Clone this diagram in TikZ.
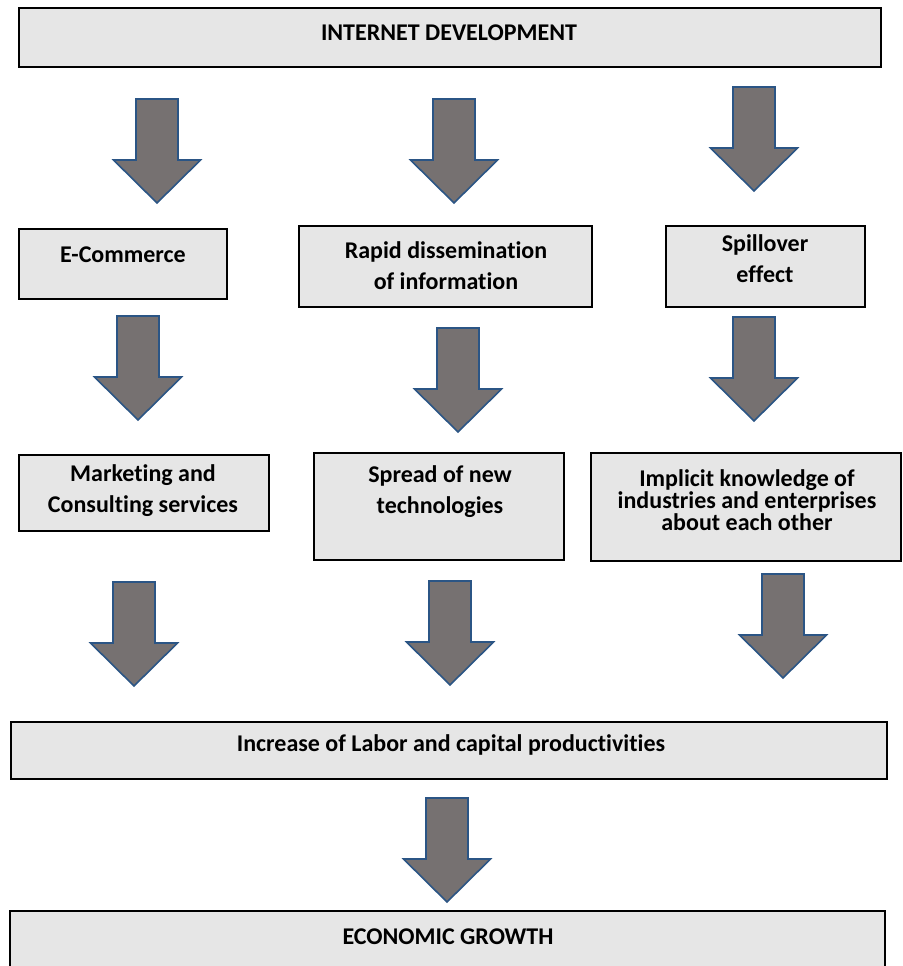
\documentclass[tikz,border=0pt]{standalone}
\usepackage{fontspec}
\setmainfont[Ligatures=NoCommon]{Carlito}
\usetikzlibrary{fit,positioning}
\definecolor{boxgray}{HTML}{E6E6E6}
\definecolor{arrowgray}{HTML}{767171}
\definecolor{arrowblue}{HTML}{2B5585}

% block arrows: centre x / top y
\def\blockarrows{157/99, 454/99, 754/87,%
  138/316, 458/328, 754/317,%
  134/582, 450/581, 783/574,%
  447/798}

\begin{document}
\begin{tikzpicture}[x=0.75pt,y=-0.75pt,
    box/.style={rectangle, draw=black, line width=1.4pt, fill=boxgray, inner sep=0pt},
    lbl/.style={font=\bfseries\fontsize{18}{23.25}\selectfont, align=center, inner sep=0pt},
    blockarrow/.style={fill=arrowgray, draw=arrowblue, line width=1.2pt, line join=miter}]

  \useasboundingbox (0,0) rectangle (902,966);

  % boxes
  \node[box, fit={(19,8)(881,67)}]    (inet) {};
  \node[box, fit={(19,229)(227,299)}] (ecom) {};
  \node[box, fit={(299,226)(592,307)}] (rapid) {};
  \node[box, fit={(666,226)(865,307)}] (spill) {};
  \node[box, fit={(19,455)(269,531)}] (market) {};
  \node[box, fit={(314,453)(564,560)}] (spread) {};
  \node[box, fit={(591,453)(901,561)}] (implicit) {};
  \node[box, fit={(11,722)(887,779)}] (increase) {};
  \node[box, fit={(10,911)(885,985)}] (econ) {};

  % texts
  \node[lbl] (inettxt)     at (449,33)    {INTERNET DEVELOPMENT};
  \node[lbl] (ecomtxt)     at (123,254.5) {E-Commerce};
  \node[lbl] (rapidtxt)    at (446,266)   {Rapid dissemination\\of information};
  \node[lbl] (spilltxt)    at (765,259)   {Spillover\\effect};
  \node[lbl] (markettxt)   at (143,490.5) {Marketing and\\Consulting services};
  \node[lbl] (spreadtxt)   at (440,491.5) {Spread of new\\technologies};
  \node[lbl, font=\bfseries\fontsize{18}{16.5}\selectfont]
             (implicittxt) at (747,500.5) {Implicit knowledge of\\industries and enterprises\\about each other};
  \node[lbl] (increasetxt) at (451,745)   {Increase of Labor and capital productivities};
  \node[lbl] (econtxt)     at (448,936.5) {ECONOMIC GROWTH};

  % arrows
  \foreach \ax/\ay in \blockarrows {%
    \draw[blockarrow, shift={(\ax,\ay)}] (-21,0) -- (21,0) -- (21,61) -- (43.5,61)
      -- (0,104) -- (-43.5,61) -- (-21,61) -- cycle;
  }

\end{tikzpicture}
\end{document}
